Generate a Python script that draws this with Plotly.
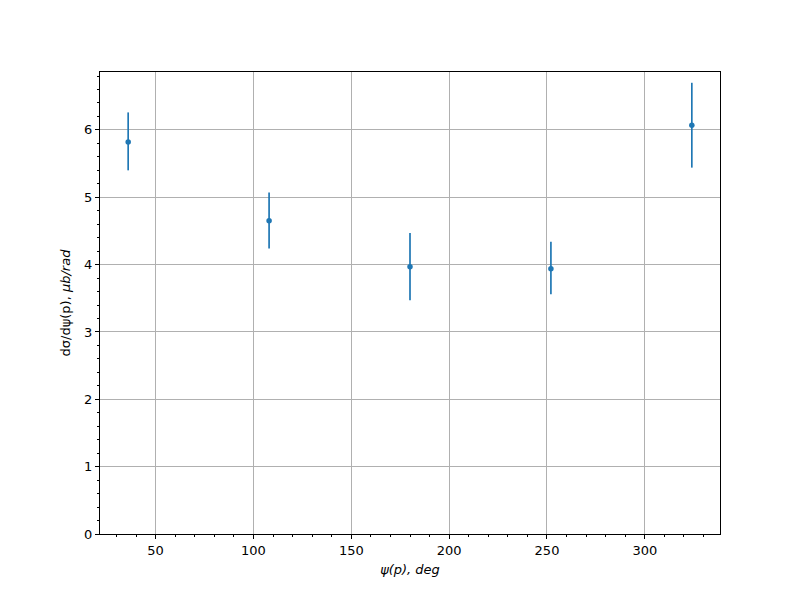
import plotly.graph_objects as go

psi = [36, 108, 180, 252, 324]
xsec = [5.82, 4.65, 3.97, 3.94, 6.07]
err_up = [0.44, 0.42, 0.50, 0.40, 0.63]
err_down = [0.42, 0.41, 0.50, 0.38, 0.63]

fig = go.Figure()
fig.add_trace(go.Scatter(
    x=psi, y=xsec, mode="markers",
    marker=dict(color="#1f77b4", size=5.5),
    error_y=dict(type="data", symmetric=False, array=err_up, arrayminus=err_down,
                 color="#1f77b4", thickness=1.7, width=0),
    showlegend=False,
))

axis_common = dict(
    showline=True, linecolor="black", linewidth=1, mirror=True,
    showgrid=True, gridcolor="#b0b0b0", gridwidth=0.8,
    ticks="outside", ticklen=4, tickcolor="black", tickwidth=1,
    zeroline=False,
    tickfont=dict(family="DejaVu Sans", size=13, color="black"),
)

fig.update_xaxes(
    range=[21.6, 338.4], tickmode="array", tickvals=[50, 100, 150, 200, 250, 300],
    minor=dict(dtick=10, tick0=0, ticks="outside", ticklen=2, tickcolor="black", showgrid=False),
    title=dict(text="<i>ψ(p), deg</i>", font=dict(family="DejaVu Sans", size=13, color="black"), standoff=8),
    **axis_common,
)
fig.update_yaxes(
    range=[0, 6.86], tickmode="array", tickvals=[0, 1, 2, 3, 4, 5, 6],
    minor=dict(dtick=0.2, tick0=0, ticks="outside", ticklen=2, tickcolor="black", showgrid=False),
    title=dict(text="dσ/dψ(p), <i>μb/rad</i>", font=dict(family="DejaVu Sans", size=13, color="black"), standoff=10),
    **axis_common,
)

fig.update_layout(
    width=800, height=600,
    margin=dict(l=92, r=88, t=64, b=74),
    plot_bgcolor="white", paper_bgcolor="white",
)

fig.write_html("out.html")
